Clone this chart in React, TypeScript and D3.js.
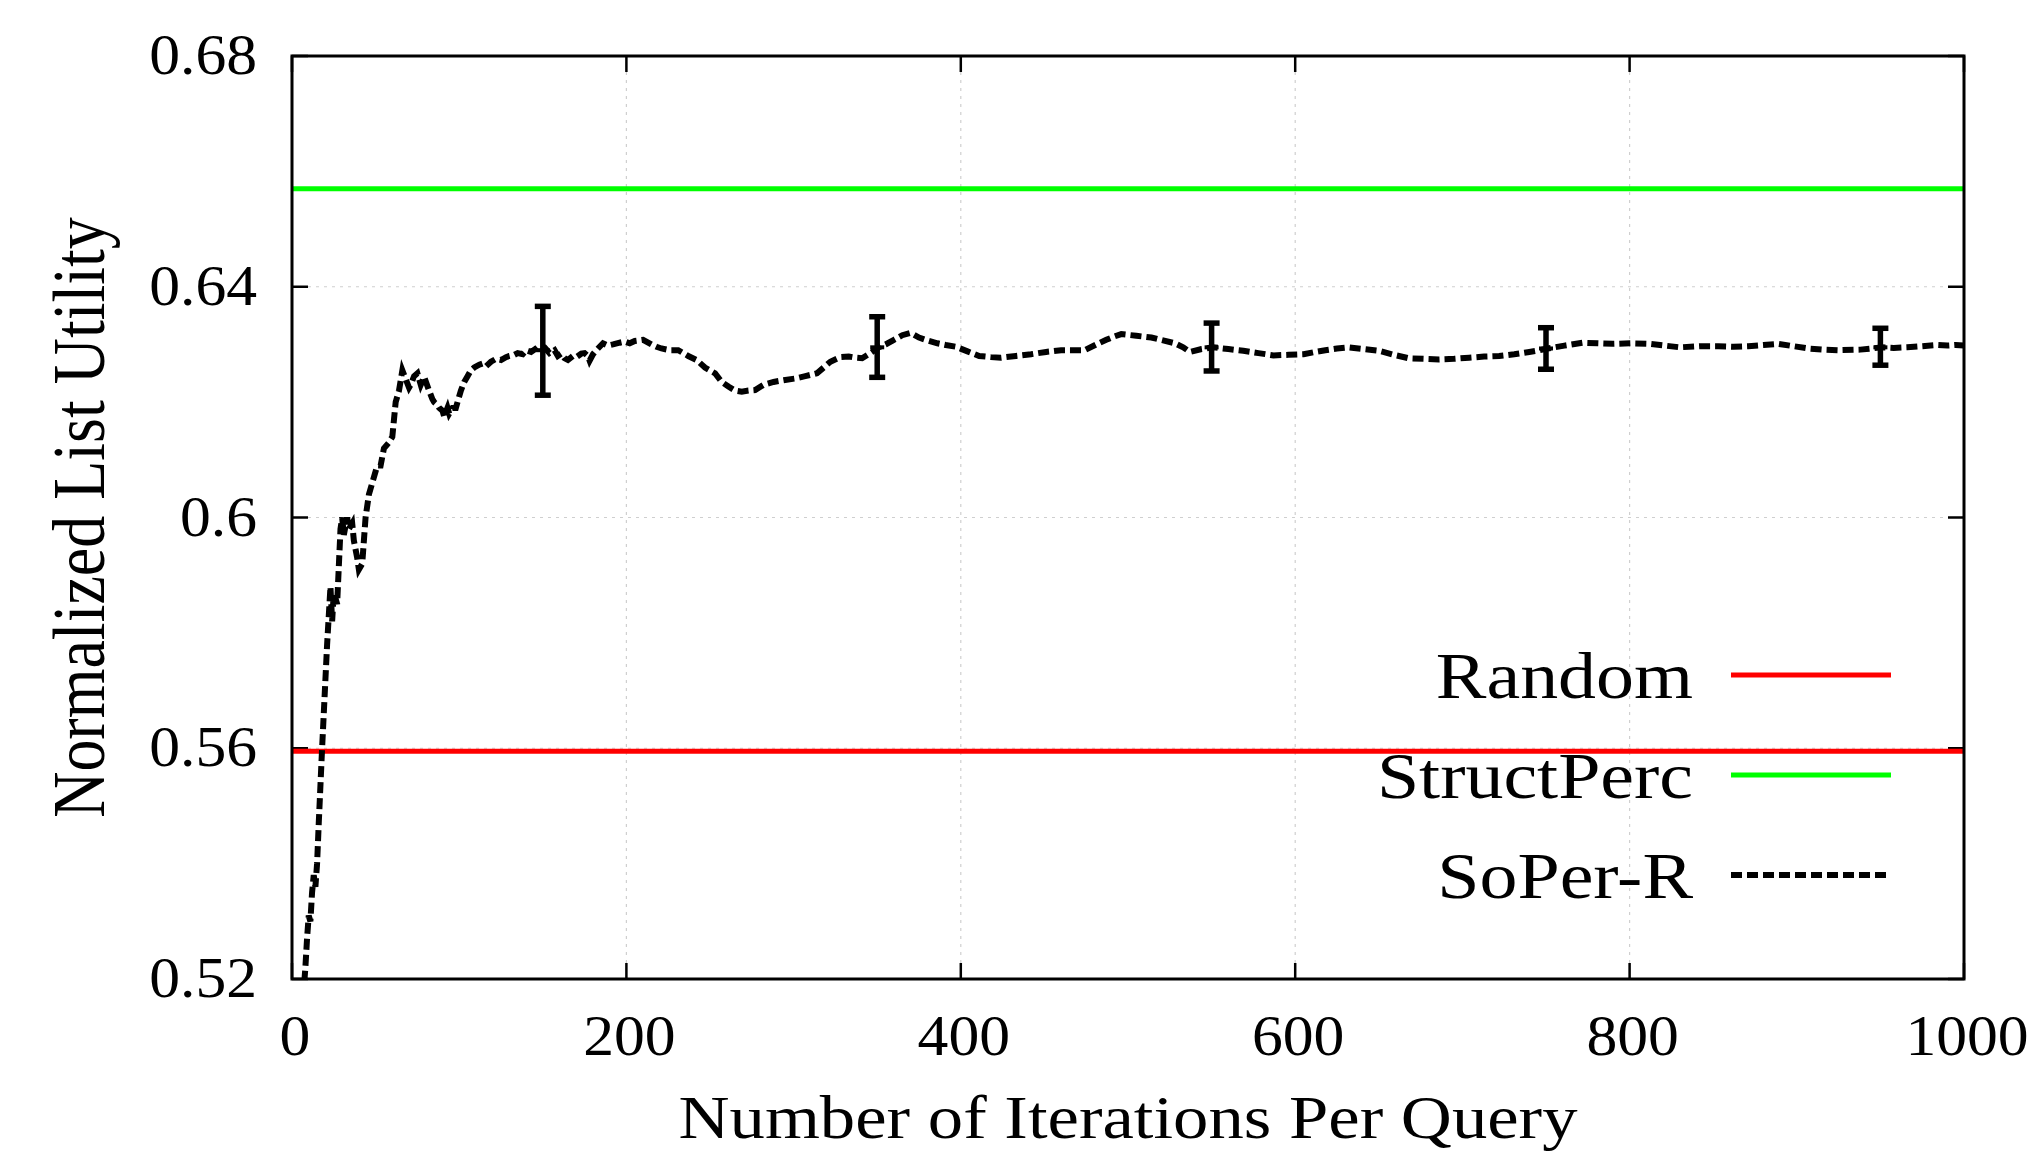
import React from 'react';
import * as d3 from 'd3';

const W = 2033;
const H = 1151;
const margin = { left: 292, right: 69, top: 56, bottom: 172 };

const xTicks = [0, 200, 400, 600, 800, 1000];
const yTicks = [0.52, 0.56, 0.6, 0.64, 0.68];
const yTickLabels = ['0.52', '0.56', '0.6', '0.64', '0.68'];

// SoPer-R running utility
const soperIter = [
  6, 8, 9, 10, 11, 12, 13, 14, 15, 16, 18, 20, 21, 22, 23, 24, 25, 27, 29, 30, 31, 33, 34, 36, 37, 39, 40, 42, 44,
  46, 48, 51, 53, 55, 58, 60, 62, 64, 66, 68, 70, 71, 73, 75, 77, 79, 82, 84, 85, 87, 88, 90, 91, 93, 94, 96, 98,
  101, 103, 105, 107, 109, 112, 114, 116, 119, 122, 125, 128, 130, 133, 135, 138, 140, 143, 146, 148, 151, 154, 157,
  159, 161, 163, 165, 168, 170, 173, 175, 177, 178, 180, 182, 186, 189, 192, 196, 199, 202, 205, 210, 215, 218, 221,
  226, 231, 237, 242, 247, 253, 257, 261, 265, 269, 273, 277, 282, 288, 294, 301, 307, 314, 318, 322, 328, 333, 337,
  341, 346, 351, 355, 360, 365, 370, 375, 380, 386, 391, 397, 404, 411, 418, 424, 433, 442, 451, 460, 467, 474, 481,
  487, 492, 496, 505, 514, 521, 528, 533, 537, 544, 551, 560, 569, 578, 587, 596, 605, 612, 618, 625, 632, 641, 650,
  659, 668, 677, 686, 695, 704, 713, 722, 731, 740, 746, 751, 761, 772, 781, 790, 801, 812, 821, 830, 842, 853, 862,
  871, 880, 889, 898, 907, 916, 925, 938, 951, 958, 966, 975, 984, 990, 995, 1000,
];
const soperValue = [
  0.514, 0.522, 0.527, 0.531, 0.530, 0.535, 0.538, 0.536, 0.540, 0.547, 0.560, 0.572, 0.578, 0.583, 0.588, 0.582,
  0.587, 0.585, 0.598, 0.600, 0.597, 0.600, 0.598, 0.599, 0.596, 0.593, 0.591, 0.592, 0.600, 0.604, 0.606, 0.609,
  0.609, 0.612, 0.613, 0.614, 0.620, 0.622, 0.6255, 0.624, 0.6225, 0.623, 0.6245, 0.625, 0.623, 0.6244, 0.622,
  0.6205, 0.620, 0.6195, 0.619, 0.6185, 0.6175, 0.619, 0.618, 0.619, 0.619, 0.622, 0.6235, 0.6245, 0.6255, 0.626,
  0.6265, 0.6267, 0.6262, 0.627, 0.6275, 0.6273, 0.6278, 0.628, 0.6282, 0.6285, 0.6283, 0.629, 0.6287, 0.6293,
  0.6298, 0.6295, 0.6285, 0.629, 0.628, 0.6284, 0.6276, 0.6273, 0.628, 0.6278, 0.6284, 0.6285, 0.628, 0.6272,
  0.6283, 0.629, 0.6302, 0.6298, 0.630, 0.6303, 0.6305, 0.6302, 0.6306, 0.6308, 0.630, 0.6296, 0.6293, 0.629,
  0.629, 0.628, 0.6273, 0.626, 0.625, 0.6235, 0.6227, 0.622, 0.6218, 0.622, 0.6221, 0.623, 0.6235, 0.6238, 0.6241,
  0.6245, 0.625, 0.626, 0.627, 0.6278, 0.6279, 0.6277, 0.6276, 0.6285, 0.6295, 0.630, 0.6308, 0.6316, 0.632,
  0.6312, 0.6307, 0.6302, 0.6299, 0.6296, 0.6288, 0.628, 0.6278, 0.6277, 0.628, 0.6283, 0.6287, 0.629, 0.629,
  0.629, 0.630, 0.6308, 0.6314, 0.6318, 0.6315, 0.6312, 0.6307, 0.6302, 0.6295, 0.6287, 0.6292, 0.6295, 0.6292,
  0.6289, 0.6285, 0.6281, 0.6282, 0.6283, 0.6287, 0.629, 0.6293, 0.6295, 0.6292, 0.6289, 0.6282, 0.6276, 0.6275,
  0.6274, 0.6275, 0.6277, 0.6279, 0.628, 0.6283, 0.6287, 0.629, 0.6293, 0.6298, 0.6303, 0.6302, 0.6301, 0.6302,
  0.6301, 0.6298, 0.6295, 0.6297, 0.6297, 0.6296, 0.6297, 0.6299, 0.6301, 0.6297, 0.6293, 0.6291, 0.629, 0.6291,
  0.6295, 0.6294, 0.6295, 0.6297, 0.6299, 0.6298, 0.6299, 0.6298,
];

// error bars on SoPer-R
const errIter = [150, 350, 550, 750, 950];
const errMid = [0.629, 0.6295, 0.6295, 0.6293, 0.6295];
const errLow = [0.6212, 0.6243, 0.6254, 0.6257, 0.6264];
const errHigh = [0.6366, 0.6348, 0.6337, 0.6329, 0.6328];

const randomValue = 0.5595;
const structPercValue = 0.657;

const legendLabels = ['Random', 'StructPerc', 'SoPer-R'];
const legendColors = ['#ff0000', '#00ff00', '#000000'];

const FONT = '"Liberation Serif", "Times New Roman", serif';
// the original figure is stretched a bit horizontally
const SX = 1.15;
const SX_TICK = 1.1;

const App = () => {
  const x0 = margin.left;
  const x1 = W - margin.right;
  const y0 = margin.top;
  const y1 = H - margin.bottom;

  const xScale = d3.scaleLinear().domain([0, 1000]).range([x0, x1]);
  const yScale = d3.scaleLinear().domain([0.52, 0.68]).range([y1, y0]);

  const line = d3
    .line<number>()
    .x((_, i) => xScale(soperIter[i]))
    .y((d) => yScale(d))
    .curve(d3.curveLinear);

  const tickLen = 16;

  return (
    <svg width={W} height={H} style={{ position: 'absolute', left: 0, top: 0, background: '#fff' }} fontFamily={FONT}>
      <defs>
        <clipPath id="plotClip">
          <rect x={x0} y={y0} width={x1 - x0} height={y1 - y0} />
        </clipPath>
      </defs>

      {/* grid */}
      {xTicks.slice(1, -1).map((t) => (
        <line key={'gx' + t} x1={xScale(t)} x2={xScale(t)} y1={y0} y2={y1} stroke="#cfcfcf" strokeWidth={1.2} strokeDasharray="3 5" />
      ))}
      {yTicks.slice(1, -1).map((t) => (
        <line key={'gy' + t} x1={x0} x2={x1} y1={yScale(t)} y2={yScale(t)} stroke="#cfcfcf" strokeWidth={1.2} strokeDasharray="3 5" />
      ))}

      {/* ticks, mirrored on all sides */}
      {xTicks.map((t) => (
        <g key={'tx' + t}>
          <line x1={xScale(t)} x2={xScale(t)} y1={y1} y2={y1 - tickLen} stroke="#000" strokeWidth={2.5} />
          <line x1={xScale(t)} x2={xScale(t)} y1={y0} y2={y0 + tickLen} stroke="#000" strokeWidth={2.5} />
          <g transform={`translate(${xScale(t) + 3}, 1055) scale(${SX_TICK}, 1)`}>
            <text textAnchor="middle" fontSize={56} fill="#000">
              {t}
            </text>
          </g>
        </g>
      ))}
      {yTicks.map((t, i) => (
        <g key={'ty' + t}>
          <line x1={x0} x2={x0 + tickLen} y1={yScale(t)} y2={yScale(t)} stroke="#000" strokeWidth={2.5} />
          <line x1={x1} x2={x1 - tickLen} y1={yScale(t)} y2={yScale(t)} stroke="#000" strokeWidth={2.5} />
          <g transform={`translate(257, ${yScale(t) + 18}) scale(${SX_TICK}, 1)`}>
            <text textAnchor="end" fontSize={56} fill="#000">
              {yTickLabels[i]}
            </text>
          </g>
        </g>
      ))}

      <g clipPath="url(#plotClip)">
        {/* baselines */}
        <line x1={x0} x2={x1} y1={yScale(randomValue)} y2={yScale(randomValue)} stroke={legendColors[0]} strokeWidth={5} />
        <line x1={x0} x2={x1} y1={yScale(structPercValue)} y2={yScale(structPercValue)} stroke={legendColors[1]} strokeWidth={5} />

        {/* SoPer-R */}
        <path
          d={line(soperValue) || ''}
          fill="none"
          stroke="#000"
          strokeWidth={6}
          strokeDasharray="11 5"
          strokeLinejoin="miter"
        />

        {/* error bars */}
        {errIter.map((it, i) => (
          <g key={'eb' + it} stroke="#000" strokeWidth={5.5}>
            <line x1={xScale(it)} x2={xScale(it)} y1={yScale(errLow[i])} y2={yScale(errHigh[i])} />
            <line x1={xScale(it) - 8} x2={xScale(it) + 8} y1={yScale(errLow[i])} y2={yScale(errLow[i])} />
            <line x1={xScale(it) - 8} x2={xScale(it) + 8} y1={yScale(errHigh[i])} y2={yScale(errHigh[i])} />
            <line x1={xScale(it) - 7} x2={xScale(it) + 7} y1={yScale(errMid[i])} y2={yScale(errMid[i])} strokeWidth={4} />
          </g>
        ))}
      </g>

      {/* frame */}
      <rect x={x0} y={y0} width={x1 - x0} height={y1 - y0} fill="none" stroke="#000" strokeWidth={3} />

      {/* legend */}
      {legendLabels.map((lab, i) => {
        const ly = 675 + i * 100;
        return (
          <g key={lab}>
            <g transform={`translate(1693, ${ly + 23}) scale(${SX}, 1)`}>
              <text textAnchor="end" fontSize={66} fill="#000">
                {lab}
              </text>
            </g>
            <line
              x1={1731}
              x2={1891}
              y1={ly}
              y2={ly}
              stroke={legendColors[i]}
              strokeWidth={i === 2 ? 6 : 5}
              strokeDasharray={i === 2 ? '11 5' : undefined}
            />
          </g>
        );
      })}

      {/* axis titles */}
      <text x={(x0 + x1) / 2} y={1138} textAnchor="middle" fontSize={62} textLength={899} lengthAdjust="spacingAndGlyphs" fill="#000">
        Number of Iterations Per Query
      </text>
      <g transform={`translate(104, ${(y0 + y1) / 2}) rotate(-90) scale(1, ${SX + 0.02})`}>
        <text x={0} y={0} textAnchor="middle" fontSize={64} fill="#000">
          Normalized List Utility
        </text>
      </g>
    </svg>
  );
};

export default App;
